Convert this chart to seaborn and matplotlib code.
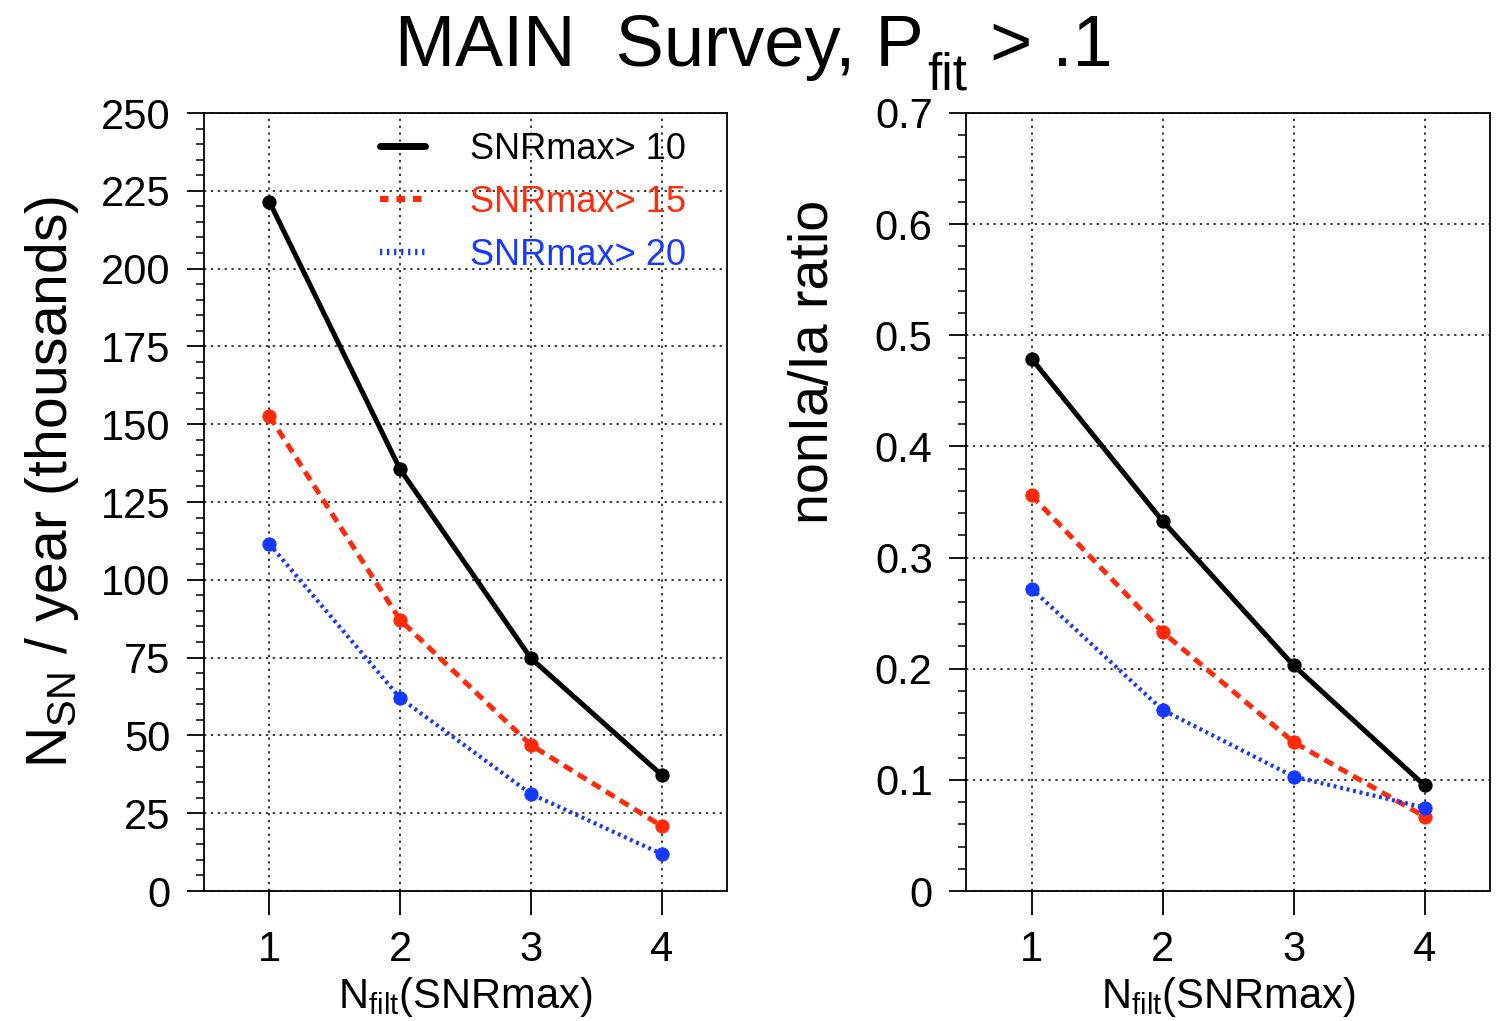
import matplotlib
matplotlib.use("Agg")
import matplotlib.pyplot as plt
import seaborn as sns
import numpy as np
import pandas as pd
from matplotlib.ticker import MultipleLocator, FuncFormatter
from matplotlib.lines import Line2D

sns.set_style("white")
plt.rcParams['font.family'] = ['Liberation Sans', 'DejaVu Sans']
plt.rcParams['mathtext.fontset'] = 'custom'
plt.rcParams['mathtext.rm'] = 'Liberation Sans'
plt.rcParams['mathtext.it'] = 'Liberation Sans'
plt.rcParams['mathtext.default'] = 'regular'
for k in ['text.color', 'axes.labelcolor', 'xtick.color', 'ytick.color', 'axes.edgecolor']:
    plt.rcParams[k] = 'black'

nfilt = [1, 2, 3, 4]
labels = ["SNRmax> 10", "SNRmax> 15", "SNRmax> 20"]
nsn_10 = [221.5, 135.5, 74.8, 37.3]
nsn_15 = [152.6, 87.1, 46.9, 20.9]
nsn_20 = [111.5, 62.0, 31.2, 11.9]
ratio_10 = [0.479, 0.333, 0.203, 0.095]
ratio_15 = [0.356, 0.233, 0.134, 0.067]
ratio_20 = [0.272, 0.163, 0.103, 0.075]

colors = ["black", "#ff2a0a", "#1438ff"]
styles = ["-", (0, (2.0, 1.3)), (0, (0.7, 0.9))]
widths = [3.6, 3.6, 3.0]

fig = plt.figure(figsize=(15.06, 10.21), dpi=100)
axL = fig.add_axes([204/1506, 130/1021, 523/1506, 778/1021])
axR = fig.add_axes([966/1506, 130/1021, 524/1506, 778/1021])

def draw(ax, series):
    for vals, lab, c, ls, lw in zip(series, labels, colors, styles, widths):
        df = pd.DataFrame({"x": nfilt, "y": vals})
        sns.lineplot(data=df, x="x", y="y", ax=ax, color=c, linestyle=ls,
                     linewidth=lw, marker="o", markersize=9.5,
                     markeredgecolor=c, markerfacecolor=c, legend=False)
    ax.set_xlim(0.5, 4.5)
    ax.xaxis.set_major_locator(MultipleLocator(1))
    ax.grid(True, which="major", color="black", linestyle=(0, (1.5, 3)), linewidth=1.1)
    for s in ax.spines.values():
        s.set_color("black")
        s.set_linewidth(1.3)
    ax.tick_params(axis="y", which="major", direction="out", length=12,
                   width=1.3, labelsize=30, left=True, pad=12)
    ax.tick_params(axis="y", which="minor", direction="out", length=6,
                   width=1.1, left=True)
    ax.tick_params(axis="x", which="major", direction="out", length=17,
                   width=1.3, labelsize=30, bottom=True, pad=11)
    ax.set_xlabel(r"$\mathrm{N_{filt}}$(SNRmax)", fontsize=30, labelpad=4)

draw(axL, [nsn_10, nsn_15, nsn_20])
axL.set_ylim(0, 250)
axL.yaxis.set_major_locator(MultipleLocator(25))
axL.yaxis.set_minor_locator(MultipleLocator(5))
axL.set_ylabel(r"$\mathrm{N_{SN}}$ / year (thousands)", fontsize=41)
axL.yaxis.set_label_coords(-0.235, 0.526)

handles = [
    Line2D([], [], color=colors[0], linestyle="-", linewidth=5.0),
    Line2D([], [], color=colors[1], linestyle=(0, (1.4, 1.3)), linewidth=4.4),
    Line2D([], [], color=colors[2], linestyle=(0, (0.35, 0.75)), linewidth=4.6),
]
leg = axL.legend(handles, labels, loc="upper left", frameon=False, fontsize=26,
                 handlelength=1.25, handletextpad=1.25, labelspacing=0.5,
                 borderaxespad=0.0, borderpad=0.0,
                 bbox_to_anchor=((380 - 204) / 523, (891 - 132) / 778))
for t, c in zip(leg.get_texts(), colors):
    t.set_color(c)

draw(axR, [ratio_10, ratio_15, ratio_20])
axR.set_ylim(0, 0.7)
axR.yaxis.set_major_locator(MultipleLocator(0.1))
axR.yaxis.set_minor_locator(MultipleLocator(0.02))
axR.yaxis.set_major_formatter(FuncFormatter(lambda v, p: "0" if abs(v) < 1e-9 else f"{v:.1f}"))
axR.set_ylabel("nonIa/Ia ratio", fontsize=40)
axR.yaxis.set_label_coords(-0.24, 0.68)

# Title with a deep subscript
y_base = (1021 - 66) / 1021
t1 = fig.text(395 / 1506, y_base, "MAIN  Survey, P", fontsize=52, ha="left", va="baseline")
t2 = axL.annotate("fit", xy=(1, 0), xycoords=t1, xytext=(4, -20), textcoords="offset pixels",
                  fontsize=37, ha="left", va="bottom", annotation_clip=False)
t3 = axL.annotate(" > .1", xy=(1, 0), xycoords=(t2, t1), xytext=(2, 0), textcoords="offset pixels",
                  fontsize=52, ha="left", va="bottom", annotation_clip=False)

fig.savefig("out.png", dpi=100)
